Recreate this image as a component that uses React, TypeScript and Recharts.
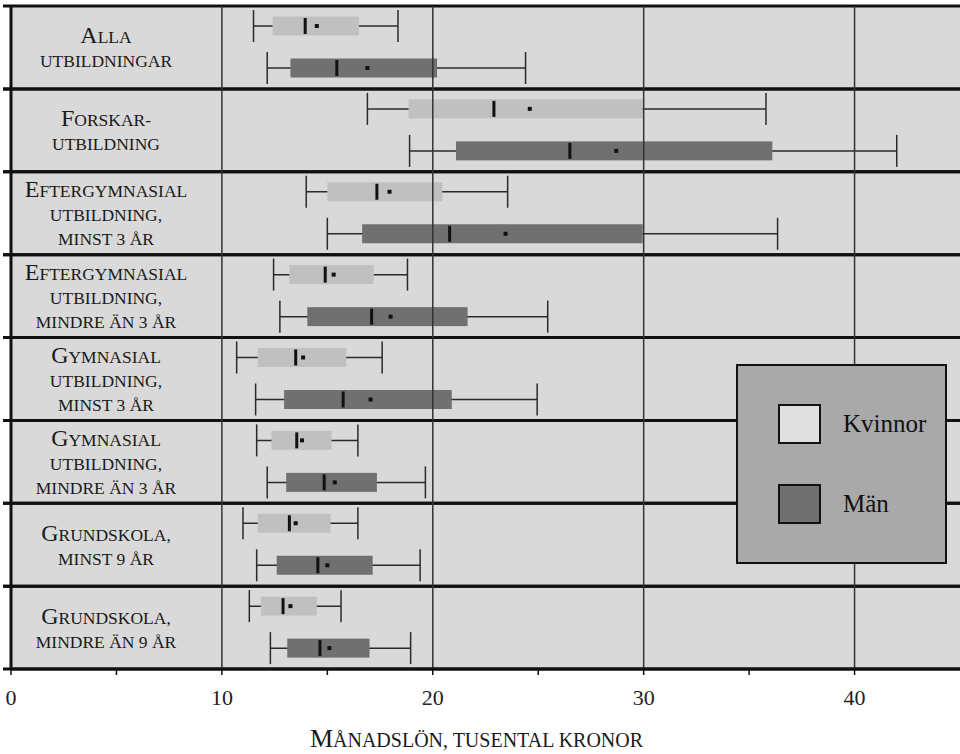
import {
  ComposedChart,
  Bar,
  XAxis,
  YAxis,
  CartesianGrid,
  ReferenceLine,
  ReferenceArea,
  Legend,
} from "recharts";

// one entry per education level, top to bottom
const categoryIds = ["alla", "forskar", "efterg3", "eftergMindre3", "gymn3", "gymnMindre3", "grund9", "grundMindre9"];
const categoryLines = [
  ["ALLA", "UTBILDNINGAR"],
  ["FORSKAR-", "UTBILDNING"],
  ["EFTERGYMNASIAL", "UTBILDNING,", "MINST 3 ÅR"],
  ["EFTERGYMNASIAL", "UTBILDNING,", "MINDRE ÄN 3 ÅR"],
  ["GYMNASIAL", "UTBILDNING,", "MINST 3 ÅR"],
  ["GYMNASIAL", "UTBILDNING,", "MINDRE ÄN 3 ÅR"],
  ["GRUNDSKOLA,", "MINST 9 ÅR"],
  ["GRUNDSKOLA,", "MINDRE ÄN 9 ÅR"],
];

// Kvinnor, tusental kronor
const kvMin = [11.5, 16.9, 14.0, 12.45, 10.7, 11.65, 11.0, 11.3];
const kvQ1 = [12.4, 18.85, 15.0, 13.2, 11.7, 12.35, 11.7, 11.85];
const kvMedian = [13.95, 22.9, 17.35, 14.9, 13.5, 13.55, 13.2, 12.9];
const kvMean = [14.5, 24.6, 17.95, 15.3, 13.85, 13.8, 13.5, 13.25];
const kvQ3 = [16.5, 29.95, 20.45, 17.2, 15.9, 15.2, 15.15, 14.5];
const kvMax = [18.35, 35.8, 23.55, 18.8, 17.6, 16.45, 16.45, 15.65];

// Män
const manMin = [12.15, 18.9, 15.0, 12.75, 11.6, 12.15, 11.65, 12.3];
const manQ1 = [13.25, 21.1, 16.65, 14.05, 12.95, 13.05, 12.6, 13.1];
const manMedian = [15.45, 26.5, 20.8, 17.1, 15.75, 14.85, 14.55, 14.65];
const manMean = [16.9, 28.7, 23.45, 18.0, 17.05, 15.35, 15.0, 15.1];
const manQ3 = [20.2, 36.1, 29.95, 21.65, 20.9, 17.35, 17.15, 17.0];
const manMax = [24.4, 42.0, 36.35, 25.45, 24.95, 19.65, 19.4, 18.95];

const xTicks = [0, 5, 10, 15, 20, 25, 30, 35, 40];
const gridValues = [10, 20, 30, 40];

const seriesNames = ["Kvinnor", "Män"];
const boxColors = ["#c0c0c0", "#707070"];
const swatchColors = ["#e0e0e0", "#707070"];

const FONT = "'Liberation Serif', 'DejaVu Serif', serif";

const data = categoryIds.map((id, i) => ({
  id,
  kv: { min: kvMin[i], q1: kvQ1[i], median: kvMedian[i], mean: kvMean[i], q3: kvQ3[i], max: kvMax[i] },
  man: { min: manMin[i], q1: manQ1[i], median: manMedian[i], mean: manMean[i], q3: manQ3[i], max: manMax[i] },
}));

function BoxShape(props: any) {
  const { x, y, width, height, payload, stat, fill } = props;
  const s = payload[stat];
  // bar spans min..max, so the scale can be read back from it
  const k = width / (s.max - s.min);
  const px = (v: number) => x + (v - s.min) * k;
  const cy = y + height / 2;
  const boxH = 19;
  return (
    <g>
      <line x1={px(s.min)} x2={px(s.max)} y1={cy} y2={cy} stroke="#2a2a2a" strokeWidth={1.5} />
      <line x1={px(s.min)} x2={px(s.min)} y1={y} y2={y + height} stroke="#2a2a2a" strokeWidth={1.5} />
      <line x1={px(s.max)} x2={px(s.max)} y1={y} y2={y + height} stroke="#2a2a2a" strokeWidth={1.5} />
      <rect x={px(s.q1)} y={cy - boxH / 2} width={px(s.q3) - px(s.q1)} height={boxH} fill={fill} />
      <line x1={px(s.median)} x2={px(s.median)} y1={cy - 8} y2={cy + 8} stroke="#111" strokeWidth={3} />
      <rect x={px(s.mean) - 2} y={cy - 2} width={4} height={4} fill="#111" />
    </g>
  );
}

// thick rule at the top and bottom of each category band, with a short tick out to the left
function BandEdges({ x, y, width, height }: any) {
  return (
    <g>
      <line x1={x - 8} x2={x + width} y1={y} y2={y} stroke="#111" strokeWidth={3} />
      <line x1={x - 8} x2={x + width} y1={y + height} y2={y + height} stroke="#111" strokeWidth={3} />
    </g>
  );
}

function CategoryTick(props: any) {
  const { x, y, payload, index } = props;
  let i = categoryIds.indexOf(payload?.value);
  if (i < 0) i = typeof payload?.value === "number" ? payload.value : index;
  const lines = categoryLines[i] || [];
  const lh = 24;
  const first = y + 8 - ((lines.length - 1) * lh) / 2;
  const cx = x + 95;
  return (
    <g>
      {lines.map((line, j) => (
        <text key={j} x={cx} y={first + j * lh} textAnchor="middle" fontFamily={FONT} fill="#1a1a1a">
          {j === 0 ? (
            <>
              <tspan fontSize={24}>{line[0]}</tspan>
              <tspan fontSize={17.5}>{line.slice(1)}</tspan>
            </>
          ) : (
            <tspan fontSize={17.5}>{line}</tspan>
          )}
        </text>
      ))}
    </g>
  );
}

function AxisTitle({ viewBox }: any) {
  const title = "MÅNADSLÖN, TUSENTAL KRONOR";
  return (
    <text x={viewBox.x + viewBox.width / 2 - 9} y={viewBox.y + 78} textAnchor="middle" fontFamily={FONT} fill="#1a1a1a">
      <tspan fontSize={26}>{title[0]}</tspan>
      <tspan fontSize={20}>{title.slice(1)}</tspan>
    </text>
  );
}

function LegendBox() {
  return (
    <div
      style={{
        width: 207,
        height: 196,
        background: "#a9a9a9",
        border: "2px solid #111",
        position: "relative",
        fontFamily: FONT,
      }}
    >
      {seriesNames.map((name, i) => (
        <div key={name} style={{ position: "absolute", left: 40, top: 38 + i * 80, display: "flex", alignItems: "center" }}>
          <div style={{ width: 39, height: 36, background: swatchColors[i], border: "2px solid #111" }} />
          <span style={{ marginLeft: 22, fontSize: 25, color: "#111" }}>{name}</span>
        </div>
      ))}
    </div>
  );
}

export default function App() {
  return (
    <div style={{ position: "absolute", left: 0, top: 0, width: 960, height: 754, background: "#fff" }}>
      <ComposedChart
        width={960}
        height={754}
        data={data}
        layout="vertical"
        margin={{ top: 6, right: 0, left: 0, bottom: 0 }}
        barGap={10}
        style={{ fontFamily: FONT }}
      >
        <CartesianGrid horizontal={false} vertical={false} fill="#d9d9d9" yAxisId="cat" />
        <XAxis
          type="number"
          domain={[0, 45]}
          ticks={xTicks}
          interval={0}
          height={85}
          tickFormatter={(v: number) => (v % 10 === 0 ? String(v) : "")}
          tick={{ fontSize: 22, fill: "#222", fontFamily: FONT }}
          tickSize={6}
          tickMargin={14}
          tickLine={{ stroke: "#111", strokeWidth: 1.5 }}
          axisLine={{ stroke: "#111", strokeWidth: 3 }}
          label={<AxisTitle />}
        />
        <YAxis
          yAxisId="cat"
          type="category"
          dataKey="id"
          width={11}
          tickSize={0}
          tickMargin={0}
          tickLine={false}
          axisLine={{ stroke: "#111", strokeWidth: 3 }}
          interval={0}
          tick={<CategoryTick />}
        />
        {gridValues.map((v) => (
          <ReferenceLine key={v} x={v} yAxisId="cat" stroke="#333" strokeWidth={1.5} />
        ))}
        {categoryIds.map((id) => (
          <ReferenceArea key={id} yAxisId="cat" y1={id} y2={id} shape={(p: any) => <BandEdges {...p} />} />
        ))}
        <Bar
          yAxisId="cat"
          dataKey={(d: any) => [d.kv.min, d.kv.max]}
          name={seriesNames[0]}
          barSize={32}
          isAnimationActive={false}
          shape={(p: any) => <BoxShape {...p} stat="kv" fill={boxColors[0]} />}
        />
        <Bar
          yAxisId="cat"
          dataKey={(d: any) => [d.man.min, d.man.max]}
          name={seriesNames[1]}
          barSize={32}
          isAnimationActive={false}
          shape={(p: any) => <BoxShape {...p} stat="man" fill={boxColors[1]} />}
        />
        <Legend
          layout="horizontal"
          align="center"
          verticalAlign="middle"
          wrapperStyle={{ left: 736, top: 364, width: 211, height: 200 }}
          content={<LegendBox />}
        />
      </ComposedChart>
    </div>
  );
}
